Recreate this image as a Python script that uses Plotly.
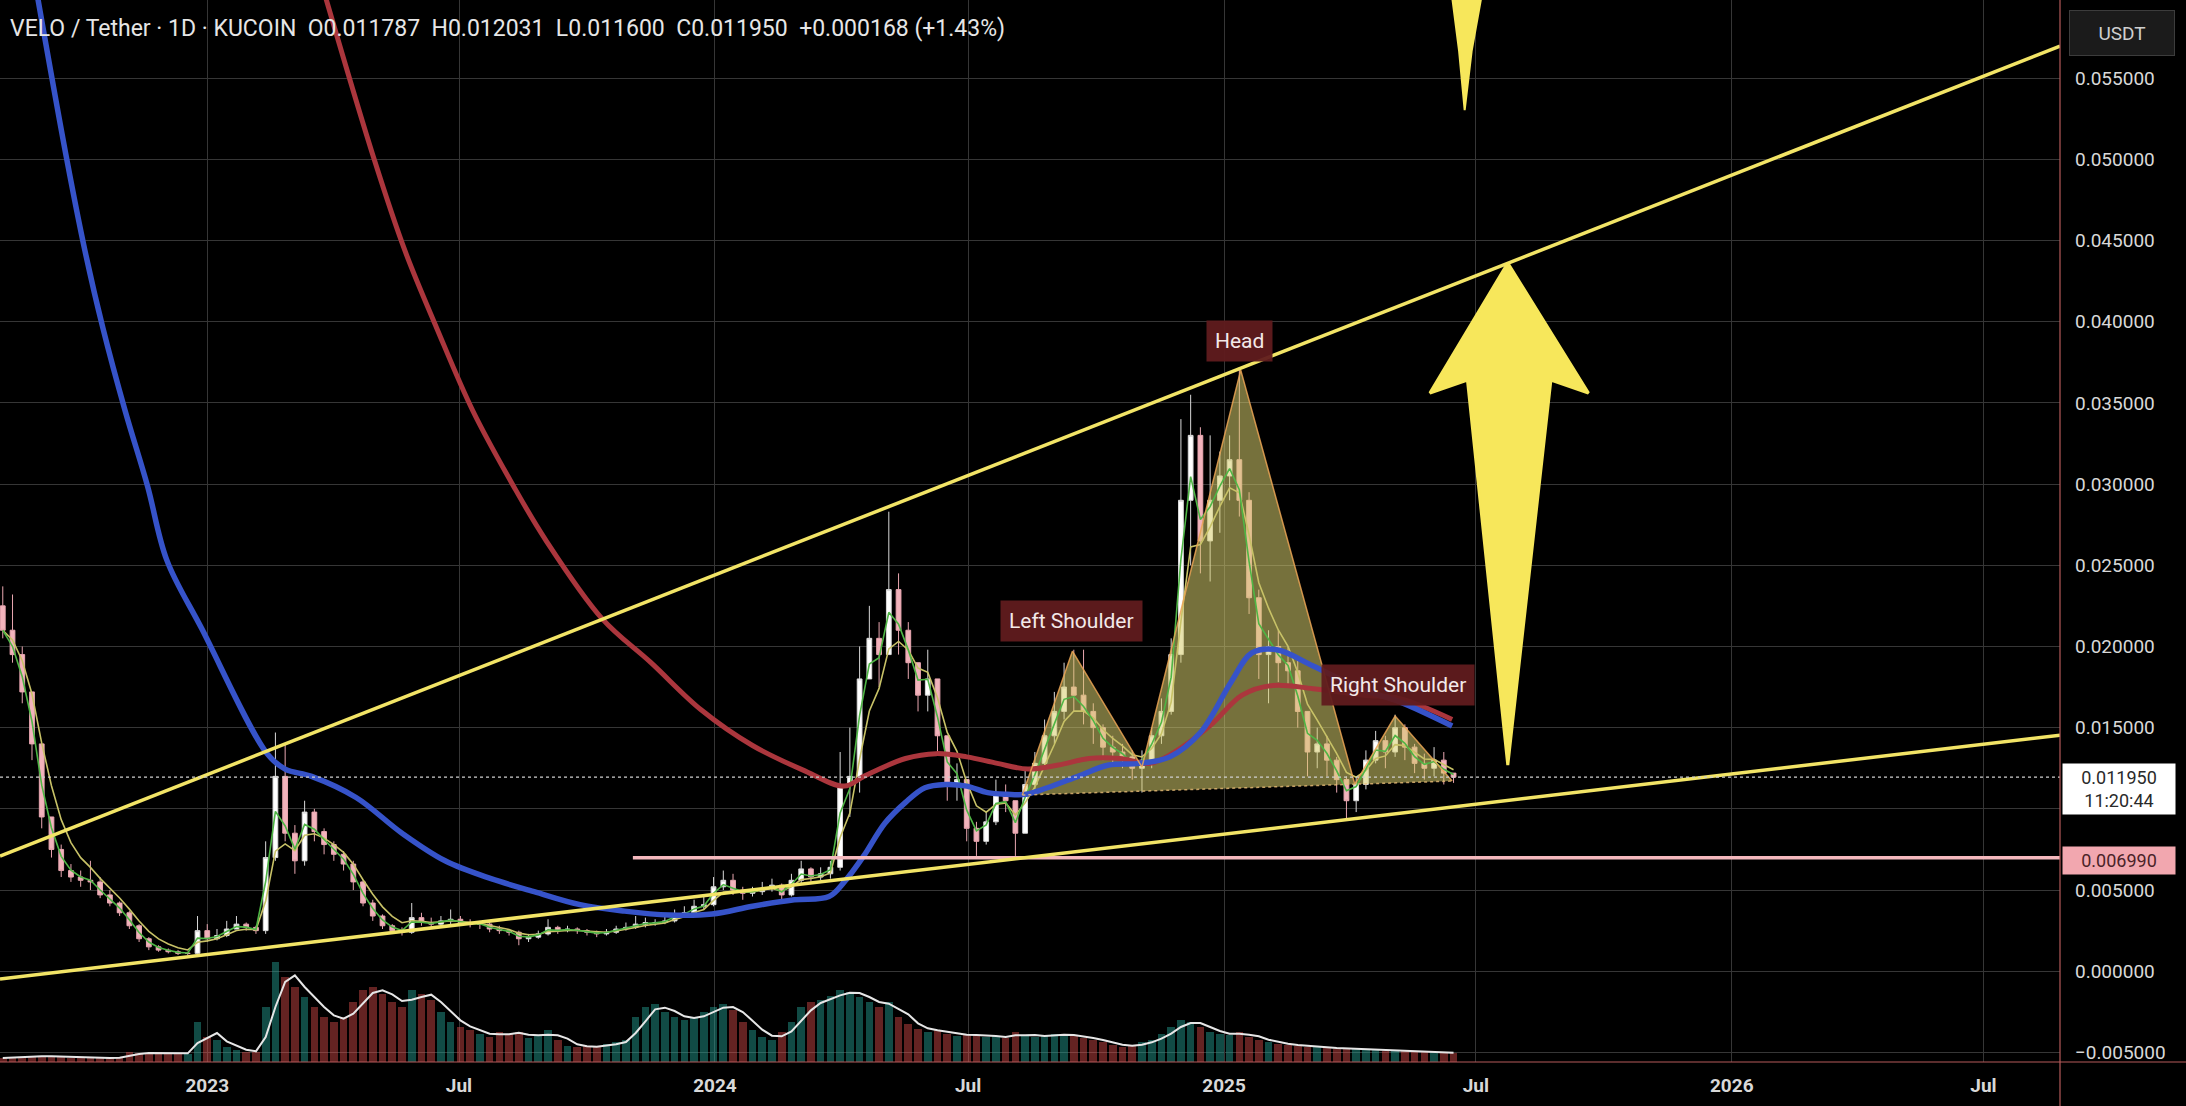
import plotly.graph_objects as go
import pandas as pd

# ---------------- data ----------------
week_start = "2022-08-07"
first_open = 0.0225
close = [0.0210, 0.0195, 0.0172, 0.0140, 0.0095, 0.0075, 0.0062, 0.0058, 0.0056, 0.0055,
         0.0047, 0.0042, 0.0036, 0.0028, 0.0020, 0.0015, 0.0013, 0.0012, 0.0011, 0.0011,
         0.0025, 0.0020, 0.0022, 0.0026, 0.0029, 0.0027, 0.0025, 0.0070, 0.0120, 0.0085,
         0.0068, 0.0098, 0.0086, 0.0078, 0.0072, 0.0066, 0.0055, 0.0042, 0.0034, 0.0028,
         0.0025, 0.0024, 0.0033, 0.0030, 0.0029, 0.0031, 0.0032, 0.0030, 0.0029, 0.0029,
         0.0026, 0.0025, 0.0024, 0.0020, 0.0021, 0.0023, 0.0027, 0.0025, 0.0026, 0.0025,
         0.0024, 0.0023, 0.0024, 0.0026, 0.0027, 0.0029, 0.0030, 0.0030, 0.0031, 0.0035,
         0.0036, 0.0040, 0.0041, 0.0052, 0.0056, 0.0050, 0.0048, 0.0049, 0.0051, 0.0053,
         0.0047, 0.0056, 0.0063, 0.0058, 0.0060, 0.0064, 0.0115, 0.0120, 0.0180, 0.0205,
         0.0195, 0.0235, 0.0210, 0.0190, 0.0170, 0.0180, 0.0145, 0.0115, 0.0118, 0.0088,
         0.0080, 0.0092, 0.0110, 0.0105, 0.0085, 0.0115, 0.0128, 0.0145, 0.0160, 0.0175,
         0.0170, 0.0160, 0.0150, 0.0138, 0.0135, 0.0132, 0.0125, 0.0130, 0.0145, 0.0160,
         0.0195, 0.0290, 0.0330, 0.0265, 0.0290, 0.0305, 0.0315, 0.0290, 0.0230, 0.0195,
         0.0200, 0.0190, 0.0185, 0.0160, 0.0135, 0.0140, 0.0130, 0.0118, 0.0105, 0.0115,
         0.0130, 0.0142, 0.0135, 0.0150, 0.0138, 0.0128, 0.0125, 0.0130, 0.0122, 0.01195]
high = [0.0237, 0.0232, 0.0200, 0.0172, 0.0140, 0.0095, 0.0078, 0.0066, 0.0062, 0.0068,
        0.0058, 0.0050, 0.0043, 0.0037, 0.0029, 0.0021, 0.0016, 0.0014, 0.0013, 0.0012,
        0.0034, 0.0029, 0.0026, 0.0031, 0.0034, 0.0030, 0.0028, 0.0080, 0.0147, 0.0140,
        0.0090, 0.0105, 0.0100, 0.0088, 0.0080, 0.0074, 0.0068, 0.0056, 0.0044, 0.0035,
        0.0029, 0.0027, 0.0042, 0.0036, 0.0033, 0.0034, 0.0038, 0.0034, 0.0032, 0.0031,
        0.0030, 0.0028, 0.0026, 0.0025, 0.0023, 0.0025, 0.0032, 0.0028, 0.0028, 0.0027,
        0.0026, 0.0025, 0.0026, 0.0028, 0.0030, 0.0034, 0.0033, 0.0032, 0.0034, 0.0038,
        0.0040, 0.0044, 0.0046, 0.0058, 0.0062, 0.0060, 0.0052, 0.0052, 0.0055, 0.0057,
        0.0054, 0.0060, 0.0068, 0.0064, 0.0064, 0.0068, 0.0135, 0.0150, 0.0200, 0.0225,
        0.0215, 0.0283, 0.0245, 0.0215, 0.0190, 0.0198, 0.0180, 0.0145, 0.0128, 0.0118,
        0.0092, 0.0098, 0.0118, 0.0115, 0.0105, 0.0125, 0.0135, 0.0155, 0.0172, 0.0190,
        0.0198, 0.0198, 0.0165, 0.0152, 0.0145, 0.0140, 0.0136, 0.0136, 0.0150, 0.0168,
        0.0205, 0.0340, 0.0355, 0.0335, 0.0330, 0.0320, 0.0330, 0.0372, 0.0295, 0.0235,
        0.0210, 0.0210, 0.0200, 0.0192, 0.0160, 0.0150, 0.0145, 0.0132, 0.0120, 0.0120,
        0.0136, 0.0148, 0.0145, 0.0158, 0.0152, 0.0140, 0.0134, 0.0138, 0.0135, 0.012031]
low = [0.0205, 0.0190, 0.0165, 0.0130, 0.0088, 0.0070, 0.0058, 0.0055, 0.0052, 0.0050,
       0.0045, 0.0040, 0.0034, 0.0026, 0.0018, 0.0013, 0.0012, 0.0011, 0.0010, 0.0010,
       0.0010, 0.0018, 0.0019, 0.0021, 0.0026, 0.0025, 0.0023, 0.0023, 0.0068, 0.0080,
       0.0060, 0.0065, 0.0080, 0.0072, 0.0068, 0.0062, 0.0050, 0.0040, 0.0031, 0.0026,
       0.0023, 0.0022, 0.0023, 0.0028, 0.0027, 0.0028, 0.0029, 0.0028, 0.0027, 0.0026,
       0.0024, 0.0023, 0.0022, 0.0016, 0.0018, 0.0020, 0.0022, 0.0023, 0.0024, 0.0023,
       0.0022, 0.0021, 0.0022, 0.0023, 0.0025, 0.0026, 0.0027, 0.0028, 0.0029, 0.0030,
       0.0033, 0.0035, 0.0038, 0.0040, 0.0050, 0.0047, 0.0044, 0.0046, 0.0047, 0.0049,
       0.0043, 0.0046, 0.0054, 0.0055, 0.0056, 0.0057, 0.0062, 0.0095, 0.0110, 0.0180,
       0.0175, 0.0195, 0.0195, 0.0180, 0.0160, 0.0160, 0.0135, 0.0105, 0.0105, 0.0080,
       0.0071, 0.0078, 0.0090, 0.0098, 0.0071, 0.0085, 0.0112, 0.0125, 0.0140, 0.0155,
       0.0160, 0.0152, 0.0140, 0.0130, 0.0128, 0.0125, 0.0118, 0.0110, 0.0125, 0.0140,
       0.0158, 0.0190, 0.0250, 0.0245, 0.0240, 0.0270, 0.0290, 0.0280, 0.0220, 0.0180,
       0.0165, 0.0178, 0.0175, 0.0150, 0.0120, 0.0125, 0.0120, 0.0110, 0.0093, 0.0098,
       0.0112, 0.0128, 0.0125, 0.0132, 0.0130, 0.0122, 0.0118, 0.0120, 0.0115, 0.0116]
volume = [4, 5, 5, 6, 6, 5, 5, 4, 5, 4,
          4, 4, 5, 10, 9, 8, 10, 9, 9, 8,
          40, 25, 22, 15, 12, 10, 10, 55, 100, 85,
          75, 65, 55, 45, 40, 45, 60, 72, 75, 68,
          60, 55, 72, 68, 62, 50, 40, 35, 32, 28,
          25, 30, 28, 30, 24, 26, 32, 22, 16, 15,
          16, 15, 18, 20, 22, 45, 55, 58, 50, 45,
          42, 45, 50, 55, 58, 52, 40, 32, 25, 22,
          30, 40, 55, 60, 62, 66, 72, 70, 65, 60,
          55, 60, 45, 38, 33, 30, 32, 28, 26, 28,
          27, 25, 26, 24, 30, 26, 25, 27, 28, 27,
          26, 24, 22, 20, 17, 15, 17, 20, 22, 28,
          35, 42, 40, 35, 30, 28, 27, 30, 25, 22,
          20, 18, 17, 16, 15, 15, 14, 13, 14, 13,
          12, 12, 11, 12, 11, 10, 10, 10, 9, 9]

# long moving averages
ma_blue_dates = ["2022-09-01", "2022-09-22", "2022-10-05", "2022-10-18", "2022-11-03", "2022-11-19",
                 "2022-12-03", "2022-12-28", "2023-02-13", "2023-02-26", "2023-03-17", "2023-04-18",
                 "2023-05-21", "2023-06-21", "2023-07-24", "2023-08-24", "2023-09-26", "2023-10-28",
                 "2023-11-29", "2023-12-30", "2024-01-28", "2024-02-27", "2024-03-23", "2024-04-03",
                 "2024-04-17", "2024-05-02", "2024-05-17", "2024-05-31", "2024-06-15", "2024-06-30",
                 "2024-07-15", "2024-07-29", "2024-08-12", "2024-08-27", "2024-09-18", "2024-10-10",
                 "2024-11-01", "2024-11-23", "2024-12-15", "2025-01-06", "2025-01-21", "2025-02-08",
                 "2025-03-06", "2025-04-12", "2025-05-07", "2025-06-14"]
ma_blue = [0.0600, 0.0500, 0.0444, 0.0396, 0.0345, 0.0299,
           0.0253, 0.0211, 0.0134, 0.01245, 0.0120, 0.0107,
           0.0085, 0.0068, 0.0057, 0.0049, 0.0041, 0.0037,
           0.00346, 0.00352, 0.0040, 0.0044, 0.0046, 0.0055,
           0.0071, 0.0091, 0.0104, 0.0113, 0.0115, 0.0114,
           0.0110, 0.0109, 0.0109, 0.0113, 0.0120, 0.0127,
           0.0128, 0.0132, 0.0147, 0.0178, 0.0196, 0.0198,
           0.0188, 0.0173, 0.0166, 0.0151]
ma_red_dates = ["2023-03-27", "2023-05-01", "2023-05-23", "2023-06-15", "2023-07-11", "2023-08-09",
                "2023-09-01", "2023-10-12", "2023-11-16", "2023-12-22", "2024-01-28", "2024-03-04",
                "2024-04-03", "2024-04-17", "2024-05-17", "2024-06-08", "2024-06-30", "2024-07-22",
                "2024-08-13", "2024-09-04", "2024-09-26", "2024-10-18", "2024-11-09", "2024-11-30",
                "2024-12-23", "2025-01-14", "2025-02-05", "2025-03-06", "2025-04-12", "2025-05-07",
                "2025-06-14"]
ma_red = [0.0600, 0.0500, 0.0444, 0.0396, 0.0345, 0.0299,
          0.0266, 0.0217, 0.0190, 0.0161, 0.0139, 0.0124,
          0.0114, 0.0120, 0.0131, 0.0134, 0.0132, 0.0128,
          0.01245, 0.0127, 0.0131, 0.0131, 0.0128, 0.0137,
          0.0152, 0.0170, 0.0176, 0.0174, 0.0170, 0.0168,
          0.0155]

# trendlines
upper_dates = ["2022-08-05", "2026-08-25"]
upper_vals = [0.00709, 0.05697]
lower_dates = ["2022-08-05", "2026-08-25"]
lower_vals = [-0.00048, 0.01454]
support_level = 0.00699
support_start = "2023-11-03"
last_price = 0.01195

# head & shoulders drawing
hs_dates = ["2024-08-09", "2024-09-14", "2024-11-03", "2025-01-13", "2025-04-05", "2025-05-04", "2025-06-14"]
hs_vals = [0.01085, 0.01971, 0.01257, 0.03702, 0.01152, 0.01571, 0.01171]
labels = ["Left Shoulder", "Head", "Right Shoulder"]
label_dates = ["2024-09-13", "2025-01-12", "2025-05-06"]
label_vals = [0.02156, 0.03880, 0.01762]

# arrows
up_arrow_dates = ["2025-07-24", "2025-09-20", "2025-08-24", "2025-07-24", "2025-06-25", "2025-05-29", "2025-07-24"]
up_arrow_vals = [0.04361, 0.0356, 0.0364, 0.01269, 0.0364, 0.0356, 0.04361]
down_arrow_dates = ["2025-06-14", "2025-07-05", "2025-06-28", "2025-06-23", "2025-06-19", "2025-06-14"]
down_arrow_vals = [0.0600, 0.0600, 0.05666, 0.05303, 0.05666, 0.0600]

x_tick_vals = ["2023-01-01", "2023-07-01", "2024-01-01", "2024-07-01",
               "2025-01-01", "2025-07-01", "2026-01-01", "2026-07-01"]
x_tick_text = ["2023", "Jul", "2024", "Jul", "2025", "Jul", "2026", "Jul"]
y_tick_vals = [-0.005, 0.0, 0.005, 0.010, 0.015, 0.020, 0.025, 0.030,
               0.035, 0.040, 0.045, 0.050, 0.055]
# the 0.010000 label is hidden behind the last-price tag in the reference
y_tick_text = ["\u22120.005000", "0.000000", "0.005000", "", "0.015000", "0.020000", "0.025000",
               "0.030000", "0.035000", "0.040000", "0.045000", "0.050000", "0.055000"]

title_text = ("VELO / Tether · 1D · KUCOIN\u00a0\u00a0O0.011787\u00a0\u00a0H0.012031\u00a0\u00a0"
              "L0.011600\u00a0\u00a0C0.011950\u00a0\u00a0+0.000168 (+1.43%)")

# ---------------- build ----------------
dates = pd.date_range(week_start, periods=len(close), freq="7D")
opens = [first_open] + close[:-1]
vol_colors = ["rgba(38,166,154,0.45)" if c >= o else "rgba(239,83,80,0.42)" for o, c in zip(opens, close)]
vol_ma = pd.Series(volume).rolling(3, min_periods=1).mean()
ema_fast = pd.Series(close).ewm(span=2, adjust=False).mean()
ema_slow = pd.Series(close).ewm(span=4, adjust=False).mean()

FONT = "Roboto, Arial, sans-serif"
fig = go.Figure()

# volume pane (base axis)
fig.add_trace(go.Bar(x=dates, y=volume, marker=dict(color=vol_colors, line=dict(width=0)),
                     width=5.5 * 86400000, yaxis="y", hoverinfo="skip"))
fig.add_trace(go.Scatter(x=dates, y=vol_ma, mode="lines", line=dict(color="#e6e6e6", width=2),
                         yaxis="y", hoverinfo="skip"))

# head & shoulders fill
hs_poly_x = hs_dates + [hs_dates[0]]
hs_poly_y = hs_vals + [hs_vals[0]]
fig.add_trace(go.Scatter(x=hs_poly_x, y=hs_poly_y, mode="lines", fill="toself",
                         fillcolor="rgba(215,205,110,0.55)", line=dict(width=0), yaxis="y2",
                         hoverinfo="skip"))

# price candles
fig.add_trace(go.Candlestick(x=dates, open=opens, high=high, low=low, close=close, yaxis="y2",
                             increasing=dict(fillcolor="#ffffff", line=dict(color="#d9d9d9", width=1)),
                             decreasing=dict(fillcolor="#f2b3bc", line=dict(color="#e9a7b1", width=1)),
                             whiskerwidth=0, hoverinfo="skip"))
fig.add_trace(go.Scatter(x=dates, y=ema_slow, mode="lines", line=dict(color="#c8c267", width=1.6),
                         yaxis="y2", hoverinfo="skip"))
fig.add_trace(go.Scatter(x=dates, y=ema_fast, mode="lines", line=dict(color="#4fb545", width=1.6),
                         yaxis="y2", hoverinfo="skip"))

# long MAs
fig.add_trace(go.Scatter(x=ma_red_dates, y=ma_red, mode="lines",
                         line=dict(color="#ab363d", width=5, shape="spline"),
                         yaxis="y2", hoverinfo="skip"))
fig.add_trace(go.Scatter(x=ma_blue_dates, y=ma_blue, mode="lines",
                         line=dict(color="#3653c9", width=5.5, shape="spline"),
                         yaxis="y2", hoverinfo="skip"))

# H&S outline
fig.add_trace(go.Scatter(x=hs_dates, y=hs_vals, mode="lines", line=dict(color="rgba(235,165,85,0.85)", width=1.5),
                         yaxis="y2", hoverinfo="skip"))
fig.add_trace(go.Scatter(x=[hs_dates[0], hs_dates[-1]], y=[hs_vals[0], hs_vals[-1]], mode="lines",
                         line=dict(color="rgba(235,190,120,0.8)", width=1.5, dash="dot"),
                         yaxis="y2", hoverinfo="skip"))

# support line
fig.add_trace(go.Scatter(x=[support_start, upper_dates[1]], y=[support_level, support_level], mode="lines",
                         line=dict(color="#f4b8bd", width=3.5), yaxis="y2", hoverinfo="skip"))

# trendlines
fig.add_trace(go.Scatter(x=upper_dates, y=upper_vals, mode="lines", line=dict(color="#f2e466", width=3.5),
                         yaxis="y2", hoverinfo="skip"))
fig.add_trace(go.Scatter(x=lower_dates, y=lower_vals, mode="lines", line=dict(color="#f2e466", width=3.5),
                         yaxis="y2", hoverinfo="skip"))

# arrows
fig.add_trace(go.Scatter(x=up_arrow_dates, y=up_arrow_vals, mode="lines", fill="toself",
                         fillcolor="#f7e75b", line=dict(color="#f7e75b", width=3), yaxis="y2", hoverinfo="skip"))
fig.add_trace(go.Scatter(x=down_arrow_dates, y=down_arrow_vals, mode="lines", fill="toself",
                         fillcolor="#f7e75b", line=dict(color="#f7e75b", width=2), yaxis="y2", hoverinfo="skip"))

# current price dotted line and borders
shapes = [
    dict(type="line", xref="paper", x0=0, x1=1, yref="y2", y0=last_price, y1=last_price,
         line=dict(color="#d0d0d0", width=1.3, dash="dot")),
    dict(type="line", xref="paper", x0=1, x1=1, yref="paper", y0=-0.05, y1=1,
         line=dict(color="#b55a5a", width=1.2)),
    dict(type="line", xref="paper", x0=0, x1=1.062, yref="paper", y0=0, y1=0,
         line=dict(color="#b55a5a", width=1.2)),
]

annotations = [
    dict(text=title_text, xref="paper", yref="paper", x=0.004, y=0.9735, xanchor="left", yanchor="middle",
         showarrow=False, font=dict(family=FONT, size=23, color="#e6e6e6")),
    dict(text="USDT", xref="paper", yref="paper", x=1.0043, y=0.969, xanchor="left", yanchor="middle",
         showarrow=False, font=dict(family=FONT, size=19, color="#cfcfcf"), bgcolor="#1b1b1b",
         bordercolor="#3c3c3c", borderwidth=1, width=102, height=42),
    dict(text="0.011950<br>11:20:44", xref="paper", yref="y2", x=1.0, xshift=2, y=last_price, yshift=-12,
         xanchor="left", yanchor="middle", showarrow=False, align="center",
         font=dict(family=FONT, size=18, color="#2a2a2a"), bgcolor="#ffffff", borderpad=3, width=106),
    dict(text="0.006990", xref="paper", yref="y2", x=1.0, xshift=2, y=support_level, yshift=-3,
         xanchor="left", yanchor="middle", showarrow=False, align="center",
         font=dict(family=FONT, size=18, color="#4a2328"), bgcolor="#f2a7af", borderpad=3, width=106),
]
for t, d, v in zip(labels, label_dates, label_vals):
    annotations.append(dict(text=t, x=d, y=v, xref="x", yref="y2", showarrow=False,
                            font=dict(family=FONT, size=21, color="#f3e9e9"),
                            bgcolor="rgba(96,27,30,0.95)", borderpad=8))

fig.update_layout(
    width=2186, height=1106,
    margin=dict(l=0, r=126, t=0, b=44),
    paper_bgcolor="#000000", plot_bgcolor="#000000",
    showlegend=False, bargap=0,
    font=dict(family=FONT, color="#d8d8d8"),
    xaxis=dict(type="date", range=["2022-08-05", "2026-08-25"], tickvals=x_tick_vals,
               ticktext=["<b>" + t + "</b>" for t in x_tick_text],
               showgrid=True, gridcolor="#363636", gridwidth=1, zeroline=False, showline=False,
               tickfont=dict(family=FONT, size=19, color="#d8d8d8"), ticklabelstandoff=10,
               rangeslider=dict(visible=False), fixedrange=True),
    yaxis=dict(range=[0, 1062], visible=False, showgrid=False, fixedrange=True),
    yaxis2=dict(overlaying="y", side="right", range=[-0.00559, 0.05981], tickvals=y_tick_vals,
                ticktext=y_tick_text, showgrid=True, gridcolor="#363636", gridwidth=1, zeroline=False,
                showline=False, tickfont=dict(family=FONT, size=19, color="#d8d8d8"),
                ticklabelstandoff=14, fixedrange=True),
    shapes=shapes, annotations=annotations,
)

fig.write_html("out.html", config={"displayModeBar": False},
               post_script="document.body.style.margin='0px';document.body.style.overflow='hidden';")
